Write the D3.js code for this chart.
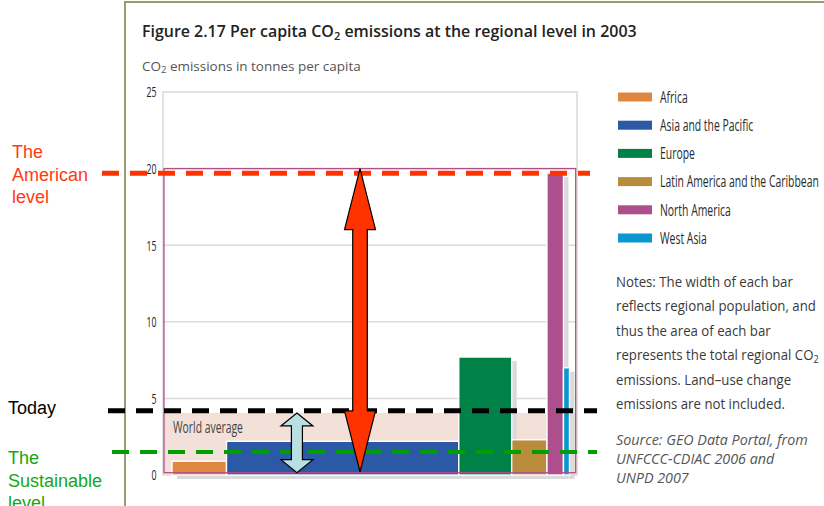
<!DOCTYPE html>
<html><head><meta charset="utf-8">
<script src="https://cdn.jsdelivr.net/npm/d3@7"></script>
<style>body{margin:0;background:#fff}svg{display:block}</style>
</head><body>
<svg id="c" width="824" height="506"></svg>
<script>
// ---------- data ----------
const regions = ["Africa", "Asia and the Pacific", "Europe", "Latin America and the Caribbean", "North America", "West Asia"];
const perCapita = [0.9, 2.2, 7.7, 2.3, 19.7, 7.0];          // tonnes CO2 per capita
const population = [868, 3700, 843, 562, 263, 96];           // millions (bar widths)
const regionColors = ["#e0873f", "#2b59a6", "#008148", "#b98c3b", "#ad4e8d", "#0a97cf"];
const yTicks = [0, 5, 10, 15, 20, 25];
const worldAverage = 4.05;
const northAmericaOutline = 20;
const levelLabels = [["The", "American", "level"], ["Today"], ["The", "Sustainable", "level"]];
const levelValues = [19.7, 4.2, 1.5];
const redArrowRange = [0.2, 20];
const blueArrowRange = [0.15, 4.05];
const notesLines = ["Notes: The width of each bar", "reflects regional population, and", "thus the area of each bar",
  "represents the total regional CO|2", "emissions. Land\u2013use change", "emissions are not included."];
const sourceLines = ["Source: GEO Data Portal, from", "UNFCCC-CDIAC 2006 and", "UNPD 2007"];

// ---------- layout ----------
const svg = d3.select("#c");
const y = d3.scaleLinear().domain([0, 25]).range([475, 92]);
const cum = d3.cumsum(population);
const x = d3.scaleLinear().domain([0, d3.sum(population)]).range([172, 569.5]);
const plotL = 163, plotR = 577;
const SANS = "'Open Sans', 'Liberation Sans', sans-serif";

function fit(g, x0, refNode, target) {
  const w = refNode.getComputedTextLength();
  g.attr("transform", `translate(${x0},0) scale(${target / w},1)`);
}

// outer frame
svg.append("path").attr("d", "M125,506 L125,2 L824,2").attr("fill", "none")
  .attr("stroke", "#9c9c72").attr("stroke-width", 2);

// title
const tg = svg.append("g");
const tt = tg.append("text").attr("x", 0).attr("y", 37).attr("font-family", SANS)
  .attr("font-weight", 600).attr("font-size", 16.5).attr("fill", "#222");
tt.append("tspan").text("Figure 2.17 Per capita CO");
tt.append("tspan").attr("font-size", 11.5).attr("dy", 3).text("2");
tt.append("tspan").attr("dy", -3).text(" emissions at the regional level in 2003");
fit(tg, 142, tt.node(), 495);

const sg = svg.append("g");
const st = sg.append("text").attr("x", 0).attr("y", 71).attr("font-family", SANS)
  .attr("font-size", 12).attr("fill", "#555");
st.append("tspan").text("CO");
st.append("tspan").attr("font-size", 8.5).attr("dy", 2.5).text("2");
st.append("tspan").attr("dy", -2.5).text(" emissions in tonnes per capita");
fit(sg, 142, st.node(), 219);

// plot frame + gridlines
svg.append("rect").attr("x", plotL).attr("y", y(25)).attr("width", plotR - plotL).attr("height", y(0) - y(25))
  .attr("fill", "none").attr("stroke", "#d9d9d9").attr("stroke-width", 1.5);
svg.append("g").selectAll("line").data(yTicks.filter(d => d > 0 && d < 25)).join("line")
  .attr("x1", plotL).attr("x2", plotR).attr("y1", d => y(d)).attr("y2", d => y(d))
  .attr("stroke", "#dcdcdc").attr("stroke-width", 1.5);

// world average band
svg.append("rect").attr("x", plotL + 0.5).attr("y", y(worldAverage))
  .attr("width", 575.5 - plotL - 0.5).attr("height", y(0) - y(worldAverage)).attr("fill", "#f3e0d9");

// bars
const bars = regions.map((r, i) => ({ r, v: perCapita[i], x0: cum[i] - population[i], x1: cum[i], c: regionColors[i] }));
svg.append("g").selectAll("rect").data(bars).join("rect")
  .attr("x", d => x(d.x0) + 5).attr("y", d => y(d.v) + 4)
  .attr("width", d => x(d.x1) - x(d.x0)).attr("height", d => y(0) - y(d.v))
  .attr("fill", "#dadada");
svg.append("g").selectAll("rect").data(bars).join("rect")
  .attr("x", d => x(d.x0)).attr("y", d => y(d.v))
  .attr("width", d => x(d.x1) - x(d.x0)).attr("height", d => y(0) - y(d.v))
  .attr("fill", d => d.c).attr("stroke", "#fff").attr("stroke-width", 1.4);

// North America outline
svg.append("rect").attr("x", 164).attr("y", y(northAmericaOutline))
  .attr("width", 575.7 - 164).attr("height", y(0.15) - y(northAmericaOutline))
  .attr("fill", "none").attr("stroke", "#b0508a").attr("stroke-width", 1.3);

// world average label
const wg = svg.append("g");
const wt = wg.append("text").attr("x", 0).attr("y", 433).attr("font-family", SANS).attr("font-size", 16)
  .attr("fill", "#444").text("World average");
fit(wg, 173, wt.node(), 70);

// y axis
const ag = svg.append("g");
ag.call(d3.axisLeft(y).tickValues(yTicks).tickSize(0).tickPadding(0).tickFormat(d3.format("d")));
ag.select(".domain").remove();
ag.selectAll("text").attr("font-family", SANS).attr("font-size", 15).attr("fill", "#222");
fit(ag, 156.5, ag.selectAll("text").nodes()[5], 10);

// legend
const lgY = d3.scaleLinear().domain([0, 5]).range([97, 238]);
svg.append("g").selectAll("rect").data(regions).join("rect")
  .attr("x", 618).attr("y", (d, i) => lgY(i) - 4.5).attr("width", 34).attr("height", 9)
  .attr("fill", (d, i) => regionColors[i]);
const lg = svg.append("g");
lg.selectAll("text").data(regions).join("text")
  .attr("x", 0).attr("y", (d, i) => lgY(i) + 5.8).attr("font-family", SANS).attr("font-size", 16)
  .attr("fill", "#2a2a2a").text(d => d);
fit(lg, 660, lg.selectAll("text").nodes()[3], 159);

// notes
const ng = svg.append("g");
notesLines.forEach((line, i) => {
  const t = ng.append("text").attr("x", 0).attr("y", 287 + i * 24.5).attr("font-family", SANS)
    .attr("font-size", 14.5).attr("fill", "#3a3a3a");
  const parts = line.split("|");
  t.append("tspan").text(parts[0]);
  if (parts[1]) t.append("tspan").attr("font-size", 10).attr("dy", 2.5).text(parts[1]);
});
fit(ng, 616, ng.selectAll("text").nodes()[1], 200);

const sog = svg.append("g");
sourceLines.forEach((line, i) => {
  sog.append("text").attr("x", 0).attr("y", 445 + i * 19).attr("font-family", SANS)
    .attr("font-size", 14).attr("font-style", "italic").attr("fill", "#555").text(line);
});
fit(sog, 616, sog.selectAll("text").nodes()[0], 192);

// dashed level lines
const levelStyles = [
  { color: "#ff3300", x1: 102, x2: 590, w: 5 },
  { color: "#000000", x1: 108, x2: 597, w: 5 },
  { color: "#009e00", x1: 112, x2: 597, w: 4 }
];
svg.append("g").selectAll("line").data(levelValues).join("line")
  .attr("x1", (d, i) => levelStyles[i].x1).attr("x2", (d, i) => levelStyles[i].x2)
  .attr("y1", d => y(d)).attr("y2", d => y(d))
  .attr("stroke", (d, i) => levelStyles[i].color).attr("stroke-width", (d, i) => levelStyles[i].w)
  .attr("stroke-dasharray", "17,11");

// arrows
function dbl(cx, yTop, yBot, hl, hh, sh) {
  return `M${cx},${yTop} L${cx + hh},${yTop + hl} L${cx + sh},${yTop + hl} L${cx + sh},${yBot - hl} ` +
    `L${cx + hh},${yBot - hl} L${cx},${yBot} L${cx - hh},${yBot - hl} L${cx - sh},${yBot - hl} ` +
    `L${cx - sh},${yTop + hl} L${cx - hh},${yTop + hl} Z`;
}
svg.append("path").attr("d", dbl(x(2995), y(redArrowRange[1]), y(redArrowRange[0]), 61, 15.5, 7.3))
  .attr("fill", "#ff3300").attr("stroke", "#000").attr("stroke-width", 1.2).attr("stroke-linejoin", "miter");
svg.append("path").attr("d", dbl(x(1990), y(blueArrowRange[1]), y(blueArrowRange[0]), 13, 16, 5.5))
  .attr("fill", "#b8e0e2").attr("stroke", "#000").attr("stroke-width", 1.2);

// level annotation labels
const labelCfg = [
  { x: 12, y0: 158, color: "#ff3a14" },
  { x: 8, y0: 414, color: "#000" },
  { x: 8, y0: 464, color: "#14a814" }
];
levelLabels.forEach((lines, i) => {
  const t = svg.append("text").attr("font-family", "'Liberation Sans', Arial, sans-serif")
    .attr("font-size", 18).attr("fill", labelCfg[i].color);
  lines.forEach((l, j) => t.append("tspan").attr("x", labelCfg[i].x).attr("y", labelCfg[i].y0 + j * 22.7).text(l));
});
</script>
</body></html>
